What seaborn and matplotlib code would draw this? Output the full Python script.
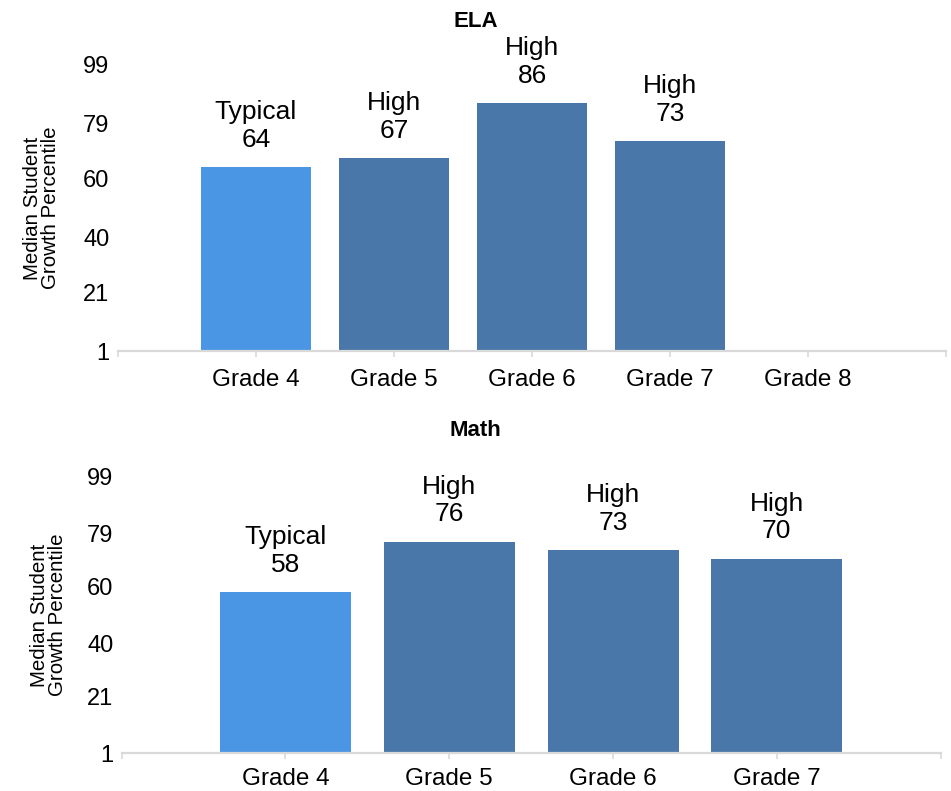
import numpy as np
import pandas as pd
import matplotlib
matplotlib.use("Agg")
import matplotlib.pyplot as plt
import seaborn as sns

# ---- data ----
ela_grades = ["Grade 4", "Grade 5", "Grade 6", "Grade 7", "Grade 8"]
ela_values = [64, 67, 86, 73, np.nan]
ela_ratings = ["Typical", "High", "High", "High", "High"]

math_grades = ["Grade 4", "Grade 5", "Grade 6", "Grade 7"]
math_values = [58, 76, 73, 70]
math_ratings = ["Typical", "High", "High", "High"]

y_ticks = [1, 21, 40, 60, 79, 99]
ylabel = "Median Student\nGrowth Percentile"

sns.set_theme(style="white")
plt.rcParams["font.family"] = ["Liberation Sans", "DejaVu Sans"]
plt.rcParams["text.color"] = "black"

palette = {"Typical": "#4A96E4", "High": "#4A77A9"}
axis_gray = "#D9D9D9"

fig = plt.figure(figsize=(9.51, 7.91), dpi=100)
ax1 = fig.add_axes([0.124, 0.556, 0.871, 0.362])
ax2 = fig.add_axes([0.128, 0.048, 0.861, 0.349])


def draw(ax, grades, values, ratings, label_x, xpad):
    df = pd.DataFrame({"grade": grades, "value": values, "rating": ratings})
    sns.barplot(data=df, x="grade", y="value", hue="rating", order=grades,
                hue_order=["Typical", "High"], palette=palette, dodge=False,
                errorbar=None, legend=False, width=0.8, ax=ax,
                linewidth=0, saturation=1)
    n = len(grades)
    ax.set_xlim(-1, n)
    ax.set_ylim(1, 99)
    ax.set_yticks(y_ticks)
    ax.set_yticklabels([str(t) for t in y_ticks], fontsize=17, color="black")
    ax.set_xticks(range(-1, n + 1))
    ax.set_xticklabels([""] + grades + [""], fontsize=17.5, color="black")
    ax.tick_params(axis="x", length=4, width=1.2, color=axis_gray, pad=xpad, bottom=True)
    ax.tick_params(axis="y", length=0, pad=6)
    for s in ["top", "right", "left"]:
        ax.spines[s].set_visible(False)
    ax.spines["bottom"].set_color(axis_gray)
    ax.spines["bottom"].set_linewidth(1.6)
    ax.set_xlabel("")
    ax.set_ylabel(ylabel, fontsize=14.8, linespacing=0.95, color="black")
    ax.yaxis.set_label_coords(label_x, 0.5)
    ax.grid(False)
    for i, (v, r) in enumerate(zip(values, ratings)):
        if np.isnan(v):
            continue
        ax.annotate(f"{r}\n{int(v)}", xy=(i, v), xytext=(0, 11),
                    textcoords="offset points", ha="center", va="bottom",
                    fontsize=19, linespacing=1.2, color="black")


draw(ax1, ela_grades, ela_values, ela_ratings, -0.070, 9)
draw(ax2, math_grades, math_values, math_ratings, -0.067, 7)

fig.text(0.5, 0.973, "ELA", ha="center", va="center", fontsize=16, fontweight="bold", color="black")
fig.text(0.5, 0.456, "Math", ha="center", va="center", fontsize=16, fontweight="bold", color="black")

fig.savefig("out.png", dpi=100, facecolor="white")
